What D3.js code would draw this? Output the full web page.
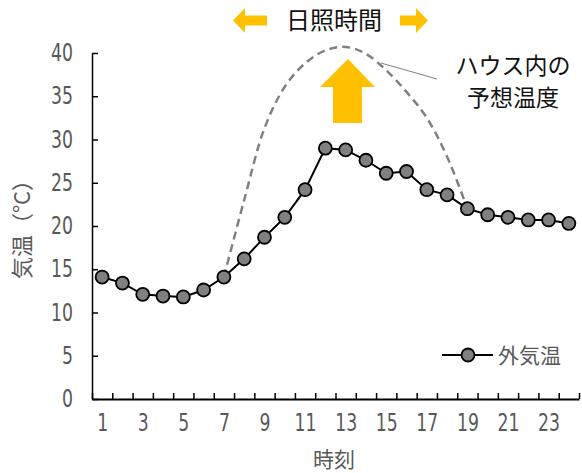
<!DOCTYPE html>
<html lang="ja">
<head>
<meta charset="utf-8">
<title>外気温とハウス内の予想温度</title>
<script src="https://d3js.org/d3.v7.min.js"></script>
<style>
  body { margin: 0; background: #fff; }
  .num { font-family: "DejaVu Sans", sans-serif; font-size: 24px; fill: #595959; }
  .jp { font-family: "Noto Sans CJK JP", sans-serif; }
</style>
</head>
<body>
<div id="chart"></div>
<script>
// hours 1..24
const hours = d3.range(1, 25);
// outside temperature (外気温)
const outside = [14.1, 13.4, 12.1, 11.9, 11.8, 12.6, 14.1, 16.2, 18.7, 21.0, 24.2, 29.0,
                 28.8, 27.6, 26.1, 26.3, 24.2, 23.6, 22.0, 21.3, 21.0, 20.7, 20.7, 20.3];
// expected greenhouse temperature during sunshine hours (7..19)
const houseHours = d3.range(7, 20);
const house = [14.1, 23.0, 31.3, 36.1, 38.8, 40.3, 40.7, 39.9, 38.0, 35.5, 32.5, 28.0, 22.0];
const yTicks = [0, 5, 10, 15, 20, 25, 30, 35, 40];
const xLabels = [1, 3, 5, 7, 9, 11, 13, 15, 17, 19, 21, 23];

const W = 582, H = 473;
const squeeze = 0.72; // narrow digits like the original
const svg = d3.select("#chart").append("svg")
    .attr("width", W).attr("height", H);

const x = d3.scaleLinear().domain([0.5, 24.5]).range([92, 579]);
const y = d3.scaleLinear().domain([0, 40]).range([399, 53]);

// y axis
const gy = svg.append("g")
    .attr("transform", "translate(92,0)")
    .call(d3.axisLeft(y).tickValues(yTicks).tickSizeInner(-6).tickSizeOuter(0).tickPadding(19));
gy.selectAll("text").attr("class", "num").attr("fill", null)
    .attr("x", -19 / squeeze)
    .attr("transform", `scale(${squeeze},1)`);
gy.selectAll("line").attr("stroke", "#000").attr("stroke-width", 1.5);
gy.select(".domain").attr("stroke", "#000").attr("stroke-width", 1.5);

// x axis: ticks between categories
const gx = svg.append("g")
    .attr("transform", "translate(0,399)")
    .call(d3.axisBottom(x).tickValues(d3.range(0.5, 25, 1)).tickSizeInner(-6).tickSizeOuter(0).tickFormat(""));
gx.selectAll("line").attr("stroke", "#000").attr("stroke-width", 1.5);
gx.select(".domain").attr("stroke", "#000").attr("stroke-width", 2);

const gxl = svg.append("g")
    .attr("transform", "translate(0,399)")
    .call(d3.axisBottom(x).tickValues(xLabels).tickSize(0).tickPadding(15));
gxl.select(".domain").remove();
gxl.selectAll("text").attr("class", "num").attr("fill", null)
    .attr("transform", `scale(${squeeze},1)`);

// axis titles
svg.append("text").attr("class", "jp")
    .attr("transform", "translate(30,224) rotate(-90)")
    .attr("text-anchor", "middle")
    .attr("font-size", 22).attr("fill", "#595959")
    .text("気温（°C）");
svg.append("text").attr("class", "jp")
    .attr("x", 334).attr("y", 467)
    .attr("text-anchor", "middle")
    .attr("font-size", 21).attr("fill", "#595959")
    .text("時刻");

// expected temperature, dashed smooth curve
const houseLine = d3.line()
    .x((d, i) => x(houseHours[i]))
    .y(d => y(d))
    .curve(d3.curveCatmullRom.alpha(0.5));
svg.append("path")
    .datum(house)
    .attr("d", houseLine)
    .attr("fill", "none")
    .attr("stroke", "#808080")
    .attr("stroke-width", 2.5)
    .attr("stroke-dasharray", "8,5");

// leader line to the label
svg.append("line")
    .attr("x1", 381).attr("y1", 63).attr("x2", 437).attr("y2", 79)
    .attr("stroke", "#808080").attr("stroke-width", 1);

svg.append("text").attr("class", "jp")
    .attr("x", 513).attr("y", 74).attr("text-anchor", "middle")
    .attr("font-size", 23).attr("fill", "#111")
    .text("ハウス内の");
svg.append("text").attr("class", "jp")
    .attr("x", 513).attr("y", 106).attr("text-anchor", "middle")
    .attr("font-size", 23).attr("fill", "#111")
    .text("予想温度");

// sunshine arrows
const gold = "#FFC000";
svg.append("path")
    .attr("d", "M233,20.5 L245,8 L245,15.5 L267,15.5 L267,25.5 L245,25.5 L245,33 Z")
    .attr("fill", gold);
svg.append("path")
    .attr("d", "M428,20.5 L416,8 L416,15.5 L400,15.5 L400,25.5 L416,25.5 L416,33 Z")
    .attr("fill", gold);
svg.append("text").attr("class", "jp")
    .attr("x", 334).attr("y", 29).attr("text-anchor", "middle")
    .attr("font-size", 24).attr("fill", "#111")
    .text("日照時間");

// up arrow
svg.append("path")
    .attr("d", "M348,59 L375,87 L362,87 L362,123 L333,123 L333,87 L320,87 Z")
    .attr("fill", gold);

// outside temperature line + markers
const line = d3.line()
    .x((d, i) => x(hours[i]))
    .y(d => y(d));
svg.append("path")
    .datum(outside)
    .attr("d", line)
    .attr("fill", "none")
    .attr("stroke", "#000")
    .attr("stroke-width", 2);
svg.selectAll("circle.pt")
    .data(outside)
    .enter().append("circle")
    .attr("class", "pt")
    .attr("cx", (d, i) => x(hours[i]))
    .attr("cy", d => y(d))
    .attr("r", 6.5)
    .attr("fill", "#808080")
    .attr("stroke", "#000")
    .attr("stroke-width", 1.8);

// legend
const lg = svg.append("g").attr("transform", "translate(0,355)");
lg.append("line").attr("x1", 442).attr("x2", 493).attr("y1", 0).attr("y2", 0)
    .attr("stroke", "#000").attr("stroke-width", 2);
lg.append("circle").attr("cx", 468).attr("cy", 0).attr("r", 6.5)
    .attr("fill", "#808080").attr("stroke", "#000").attr("stroke-width", 1.8);
lg.append("text").attr("class", "jp")
    .attr("x", 498).attr("y", 8)
    .attr("font-size", 21).attr("fill", "#595959")
    .text("外気温");
</script>
</body>
</html>
